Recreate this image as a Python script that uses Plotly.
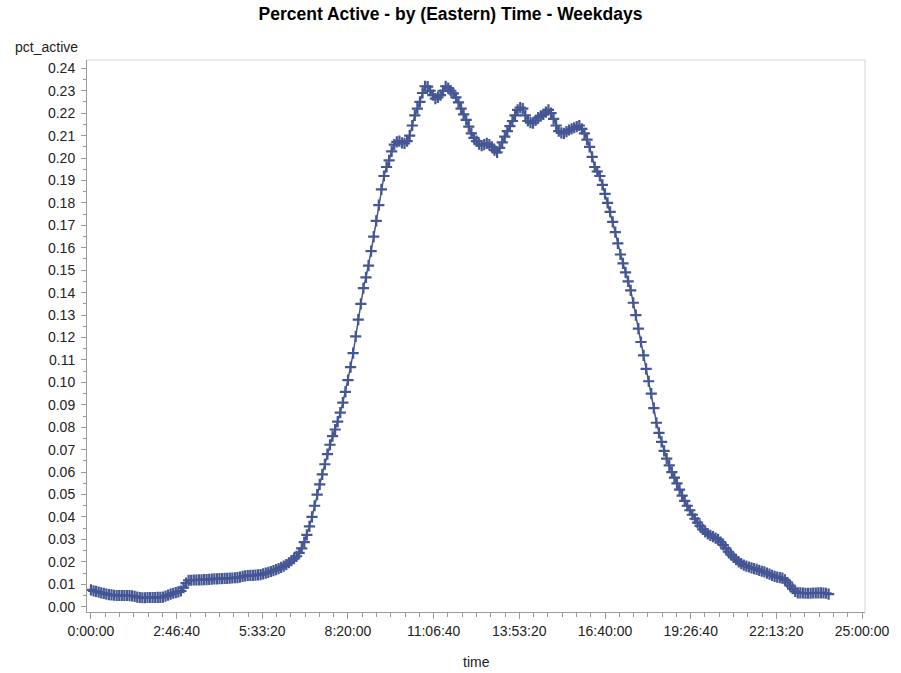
import plotly.graph_objects as go

# time of day in minutes (5-minute samples) and the share of active users
minutes = list(range(0, 1440, 5))
pct_active = [
    0.0075, 0.0071, 0.0068, 0.0065, 0.0062, 0.0059, 0.0056, 0.0054, 0.0053, 0.0051, 0.0050, 0.0050,
    0.0050, 0.0050, 0.0050, 0.0049, 0.0048, 0.0046, 0.0043, 0.0041, 0.0040, 0.0040, 0.0041, 0.0041,
    0.0041, 0.0041, 0.0042, 0.0042, 0.0043, 0.0047, 0.0052, 0.0056, 0.0060, 0.0063, 0.0066, 0.0070,
    0.0085, 0.0105, 0.0117, 0.0118, 0.0119, 0.0119, 0.0120, 0.0120, 0.0121, 0.0121, 0.0122, 0.0123,
    0.0124, 0.0124, 0.0125, 0.0125, 0.0126, 0.0126, 0.0127, 0.0128, 0.0129, 0.0130, 0.0132, 0.0135,
    0.0137, 0.0139, 0.0140, 0.0140, 0.0141, 0.0142, 0.0143, 0.0146, 0.0150, 0.0153, 0.0157, 0.0161,
    0.0165, 0.0170, 0.0175, 0.0181, 0.0188, 0.0196, 0.0205, 0.0214, 0.0225, 0.0240, 0.0260, 0.0288,
    0.0320, 0.0358, 0.0400, 0.0450, 0.0500, 0.0545, 0.0590, 0.0635, 0.0680, 0.0722, 0.0760, 0.0790,
    0.0825, 0.0865, 0.0910, 0.0958, 0.1010, 0.1068, 0.1130, 0.1205, 0.1280, 0.1350, 0.1420, 0.1468,
    0.1520, 0.1585, 0.1650, 0.1720, 0.1790, 0.1860, 0.1920, 0.1960, 0.1990, 0.2030, 0.2060, 0.2072,
    0.2075, 0.2068, 0.2065, 0.2075, 0.2100, 0.2145, 0.2190, 0.2220, 0.2250, 0.2290, 0.2320, 0.2318,
    0.2300, 0.2280, 0.2265, 0.2270, 0.2280, 0.2300, 0.2320, 0.2312, 0.2300, 0.2288, 0.2270, 0.2248,
    0.2220, 0.2195, 0.2170, 0.2140, 0.2110, 0.2090, 0.2075, 0.2062, 0.2055, 0.2060, 0.2065, 0.2060,
    0.2050, 0.2035, 0.2025, 0.2045, 0.2070, 0.2095, 0.2120, 0.2142, 0.2165, 0.2190, 0.2215, 0.2225,
    0.2220, 0.2190, 0.2165, 0.2158, 0.2155, 0.2168, 0.2180, 0.2188, 0.2195, 0.2205, 0.2215, 0.2200,
    0.2175, 0.2145, 0.2120, 0.2112, 0.2110, 0.2118, 0.2125, 0.2130, 0.2135, 0.2140, 0.2145, 0.2130,
    0.2110, 0.2082, 0.2050, 0.2005, 0.1960, 0.1940, 0.1920, 0.1880, 0.1840, 0.1800, 0.1760, 0.1715,
    0.1670, 0.1620, 0.1570, 0.1530, 0.1490, 0.1450, 0.1410, 0.1355, 0.1300, 0.1240, 0.1180, 0.1120,
    0.1060, 0.1005, 0.0950, 0.0885, 0.0820, 0.0775, 0.0735, 0.0695, 0.0660, 0.0630, 0.0600, 0.0575,
    0.0550, 0.0522, 0.0495, 0.0472, 0.0450, 0.0430, 0.0410, 0.0392, 0.0375, 0.0360, 0.0345, 0.0334,
    0.0325, 0.0318, 0.0312, 0.0306, 0.0300, 0.0288, 0.0275, 0.0260, 0.0245, 0.0232, 0.0220, 0.0210,
    0.0200, 0.0192, 0.0185, 0.0181, 0.0177, 0.0173, 0.0170, 0.0166, 0.0162, 0.0158, 0.0155, 0.0150,
    0.0145, 0.0140, 0.0135, 0.0132, 0.0130, 0.0127, 0.0120, 0.0108, 0.0094, 0.0080, 0.0068, 0.0062,
    0.0062, 0.0061, 0.0060, 0.0060, 0.0060, 0.0061, 0.0061, 0.0062, 0.0062, 0.0061, 0.0060, 0.0056,
]

x_tick_seconds = [0, 10000, 20000, 30000, 40000, 50000, 60000, 70000, 80000, 90000]
x_tick_labels = ["0:00:00", "2:46:40", "5:33:20", "8:20:00", "11:06:40",
                 "13:53:20", "16:40:00", "19:26:40", "22:13:20", "25:00:00"]
y_tick_values = [i / 100 for i in range(0, 25)]
y_tick_labels = [f"{v:.2f}" for v in y_tick_values]

seconds = [m * 60 for m in minutes]

COLOR = "#445694"
FONT = "Liberation Sans, Arial, sans-serif"
TEXT = "#222222"

fig = go.Figure()
fig.add_trace(go.Scatter(
    x=seconds, y=pct_active, mode="lines+markers",
    line=dict(color=COLOR, width=1.5),
    marker=dict(symbol="cross-thin", size=8, line=dict(color=COLOR, width=2.2)),
    showlegend=False,
))

axis_col = "#9a9a9a"
fig.update_layout(
    width=901, height=673,
    margin=dict(l=87, r=27, t=60, b=61),
    paper_bgcolor="white", plot_bgcolor="white",
    font=dict(family=FONT, size=14, color=TEXT),
    title=dict(text="<b>Percent Active - by (Eastern) Time - Weekdays</b>",
               x=0.5, xanchor="center", y=0.979, yanchor="middle",
               font=dict(family=FONT, size=17.5, color="#000000")),
    xaxis=dict(
        range=[-462, 90346], showgrid=False, zeroline=False,
        showline=True, linecolor=axis_col, linewidth=1,
        tickmode="array", tickvals=x_tick_seconds, ticktext=x_tick_labels,
        ticks="outside", ticklen=6, tickcolor=axis_col, tickwidth=1,
        tickfont=dict(family=FONT, size=14, color=TEXT),
        minor=dict(dtick=10000 / 6, tick0=0, ticks="outside", ticklen=4,
                   tickcolor=axis_col, showgrid=False),
    ),
    yaxis=dict(
        range=[-0.00236, 0.2437], showgrid=False, zeroline=False,
        showline=True, linecolor=axis_col, linewidth=1,
        tickmode="array", tickvals=y_tick_values, ticktext=y_tick_labels,
        ticks="outside", ticklen=5, tickcolor=axis_col, tickwidth=1,
        tickfont=dict(family=FONT, size=14, color=TEXT),
        ticklabelstandoff=3,
        minor=dict(dtick=0.005, tick0=0, ticks="outside", ticklen=3,
                   tickcolor=axis_col, showgrid=False),
    ),
    shapes=[
        dict(type="line", xref="paper", yref="paper", x0=0, x1=1, y0=1, y1=1,
             line=dict(color="#d4d4d4", width=1)),
        dict(type="line", xref="paper", yref="paper", x0=1, x1=1, y0=0, y1=1,
             line=dict(color="#d4d4d4", width=1)),
    ],
    annotations=[
        dict(text="pct_active", xref="paper", yref="paper", x=-0.0955, y=1.005,
             xanchor="left", yanchor="bottom", showarrow=False,
             font=dict(family=FONT, size=14, color=TEXT)),
        dict(text="time", xref="paper", yref="paper", x=0.5, y=-0.0906,
             xanchor="center", yanchor="middle", showarrow=False,
             font=dict(family=FONT, size=14, color=TEXT)),
    ],
)

fig.write_html("out.html")
